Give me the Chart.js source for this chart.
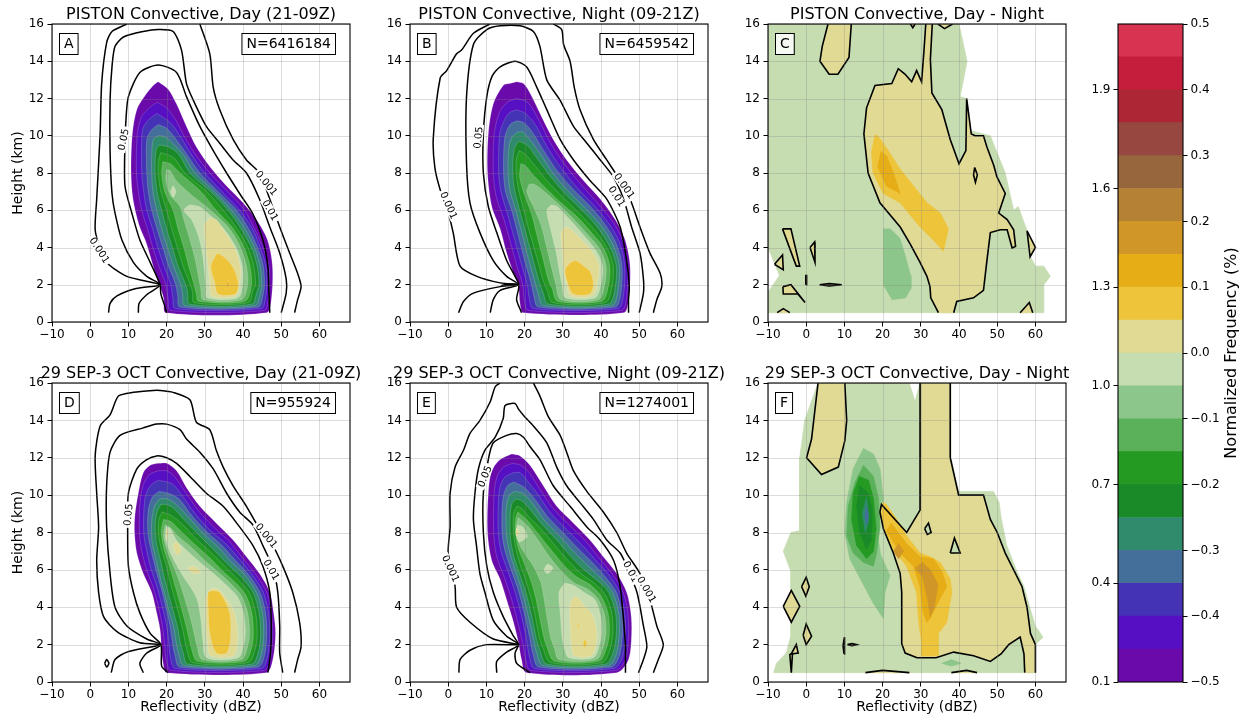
<!DOCTYPE html>
<html>
<head>
<meta charset="utf-8">
<script src="https://cdn.jsdelivr.net/npm/chart.js@4.4.1/dist/chart.umd.min.js"></script>
<style>
  body { margin: 0; background: #fff; width: 1245px; height: 723px; position: relative; overflow: hidden; }
  canvas { position: absolute; }
</style>
</head>
<body>
<script>
const FONT = '"DejaVu Sans", sans-serif';

// axes
const xTicks = [-10, 0, 10, 20, 30, 40, 50, 60];
const yTicks = [0, 2, 4, 6, 8, 10, 12, 14, 16];
const freqTicks = [0.1, 0.4, 0.7, 1.0, 1.3, 1.6, 1.9];
const diffTicks = [-0.5, -0.4, -0.3, -0.2, -0.1, 0.0, 0.1, 0.2, 0.3, 0.4, 0.5];
// colour levels (normalized frequency, %)
const freqLevels = [0.1, 0.2, 0.3, 0.4, 0.5, 0.6, 0.7, 0.8, 0.9, 1.0, 1.1, 1.2, 1.3, 1.4, 1.5, 1.6, 1.7, 1.8, 1.9, 2.0, 2.1];
const bandColors = ['#6a0aab', '#560fc2', '#4533b5', '#456f9b', '#2f8b6c', '#1a8a29', '#249a23', '#5ab15a', '#8dc68a', '#c6dcb1',
                    '#e0da94', '#edc43a', '#e6ad16', '#d09628', '#b58135', '#97663d', '#964840', '#ad2635', '#c41e3c', '#d83350'];

// ---------- A: PISTON day ----------
const countA = 6416184;
const fillA = [
  [0, [[17.8,12.9],[16.5,12.7],[14.5,12.2],[12.2,11.4],[11.0,10.0],[10.7,8.0],[11.2,6.6],[12.8,5.2],[14.6,4.3],[16.2,3.2],[17.5,2.3],[18.3,1.9],[19.3,1.2],[19.8,0.5],[46.1,0.5],[47.4,1.2],[47.7,3.0],[46.4,4.4],[43.5,5.5],[40.0,6.4],[35.7,7.3],[31.5,8.3],[27.8,9.4],[25.2,10.5],[22.6,11.7],[20.4,12.5]]],
  [1, [[17.5,11.8],[15.5,11.5],[13.4,11.0],[12.3,10.0],[12.1,8.0],[12.6,7.0],[13.5,6.0],[15.0,5.0],[16.4,4.0],[18.0,3.0],[19.8,2.0],[20.4,1.2],[21.0,0.62],[45.5,0.62],[46.6,1.2],[46.9,2.0],[46.8,3.0],[45.2,4.0],[43.5,4.8],[40.4,6.0],[36.0,7.0],[31.3,8.0],[27.5,9.0],[24.5,10.0],[22.5,10.8],[20.0,11.5]]],
  [2, [[17.5,11.2],[15.5,10.9],[14.0,10.5],[13.5,10.0],[13.5,8.0],[14.0,7.0],[14.8,6.0],[16.3,5.0],[17.7,4.0],[19.3,3.0],[21.1,2.0],[21.6,1.3],[22.3,0.72],[44.8,0.72],[45.9,1.3],[46.2,2.0],[46.0,3.0],[44.5,4.0],[42.5,5.0],[39.1,6.0],[34.5,7.0],[30.0,8.0],[26.5,9.0],[23.5,10.0],[21.0,10.7]]],
  [3, [[17.8,10.6],[16.0,10.3],[14.8,9.8],[14.8,8.0],[15.2,7.0],[16.1,6.0],[17.5,5.0],[19.0,4.0],[20.5,3.0],[22.4,2.0],[22.9,1.4],[23.5,0.8],[44.0,0.8],[45.2,1.4],[45.6,2.0],[45.3,3.0],[43.8,4.0],[41.5,5.0],[38.3,6.0],[33.5,7.0],[28.7,8.0],[25.3,9.0],[22.5,9.8],[20.0,10.4]]],
  [4, [[17.8,10.0],[16.5,9.8],[16.1,9.0],[16.1,8.0],[16.4,7.0],[17.4,6.0],[18.7,5.0],[20.2,4.0],[21.8,3.0],[23.7,2.0],[24.2,1.5],[24.7,0.88],[43.2,0.88],[44.5,1.5],[44.9,2.0],[44.5,3.0],[43.0,4.0],[40.5,5.0],[37.0,6.0],[32.5,7.0],[27.4,8.0],[24.3,9.0],[21.5,9.6],[19.5,9.95]]],
  [5, [[18.0,9.5],[17.2,9.2],[17.0,8.0],[17.5,7.0],[18.7,6.0],[20.0,5.0],[21.5,4.0],[23.0,3.0],[25.0,2.0],[25.5,1.6],[26.0,0.96],[42.3,0.96],[43.6,1.6],[44.2,2.0],[43.7,3.0],[42.2,4.0],[39.5,5.0],[36.1,6.0],[31.5,7.0],[26.1,8.0],[23.2,9.0],[20.5,9.4]]],
  [6, [[18.5,9.1],[17.9,8.7],[17.8,8.0],[18.5,7.0],[20.0,6.0],[21.3,5.0],[22.8,4.0],[24.3,3.0],[26.2,2.0],[26.8,1.6],[27.2,1.04],[41.4,1.04],[42.6,1.7],[43.3,2.0],[42.8,3.0],[41.3,4.0],[38.5,5.0],[34.8,6.0],[30.5,7.0],[24.8,8.0],[22.0,8.8],[20.0,9.0]]],
  [7, [[19.0,8.6],[18.7,8.0],[19.5,7.0],[21.7,6.0],[23.0,5.0],[24.5,4.0],[25.8,3.0],[27.2,2.0],[27.8,1.5],[28.3,1.12],[40.5,1.12],[42.2,2.0],[41.8,3.0],[40.3,4.0],[37.5,5.0],[33.0,6.0],[29.0,7.0],[23.5,8.0],[21.0,8.5]]],
  [8, [[20.0,8.2],[19.8,7.6],[21.0,6.8],[23.5,6.2],[24.5,5.5],[26.0,4.5],[27.3,3.5],[28.3,2.5],[29.0,1.7],[29.5,1.2],[39.6,1.2],[41.2,2.0],[40.9,3.0],[39.3,4.0],[36.5,5.0],[31.5,6.0],[28.5,6.5],[25.5,7.0],[22.5,7.6],[21.0,8.1]]],
  [9, [[26.0,6.3],[24.5,6.0],[26.5,5.5],[28.5,4.5],[29.5,3.5],[30.0,2.5],[30.3,1.8],[30.6,1.3],[38.7,1.3],[40.0,2.2],[39.8,3.0],[38.2,4.0],[35.0,5.0],[31.0,5.8],[28.5,6.2]]],
  [9, [[21.0,7.0],[21.7,7.3],[22.4,7.0],[21.7,6.7]]],
  [10, [[31.5,5.6],[29.8,5.2],[30.3,4.0],[30.8,3.0],[31.3,2.2],[31.8,1.4],[38.0,1.4],[39.3,2.3],[39.3,3.0],[37.8,4.0],[35.0,4.9],[33.0,5.5]]],
  [11, [[33.2,3.7],[31.6,3.0],[32.5,2.2],[33.5,1.5],[38.0,1.5],[38.8,2.0],[37.5,2.9],[35.0,3.5]]],
  [12, [[36.0,2.25],[36.3,2.0],[36.0,1.8],[35.7,2.0]]]
];
const linesA = [
  [[4.8,0.5],[5.2,1.0],[7.0,1.4],[12.0,1.8],[18.3,2.0],[9.6,2.45],[4.3,3.2],[2.5,4.0],[1.3,4.95],[1.7,6.6],[2.6,10.1],[3.0,12.8],[4.3,15.0],[5.7,15.6],[9.6,16.0]],
  [[28.7,16.0],[31.3,14.4],[32.2,12.6],[33.9,11.4],[37.4,9.8],[40.9,8.7],[44.3,8.0],[47.0,6.6],[49.6,5.1],[52.2,3.7],[54.3,2.6],[55.2,1.9],[54.3,1.2],[53.5,0.5]],
  [[12.6,0.5],[12.8,1.0],[15.0,1.5],[18.3,2.0],[14.8,2.45],[11.3,3.2],[8.3,4.4],[6.5,5.85],[5.7,6.9],[5.2,9.2],[5.2,11.9],[5.7,13.7],[6.5,14.8],[8.7,15.3],[13.9,15.6],[17.8,15.7],[21.7,15.6],[23.9,14.6],[25.2,12.8],[27.0,11.9],[30.4,10.5],[33.9,9.6],[37.4,8.7],[40.9,8.0],[44.3,6.6],[47.0,5.1],[49.6,3.7],[51.3,2.3],[51.3,1.55],[50.0,0.5]],
  [[20.0,0.5],[19.3,1.0],[18.5,1.5],[18.3,2.0],[17.4,2.45],[15.7,3.2],[13.0,4.4],[10.9,5.85],[9.1,7.3],[9.1,9.6],[9.4,11.0],[10.0,12.1],[13.0,13.4],[17.8,13.8],[22.6,13.4],[25.2,12.1],[28.7,10.5],[32.2,9.2],[35.7,8.0],[39.1,6.9],[42.6,5.8],[45.2,4.4],[46.5,3.0],[46.8,1.55],[47.0,0.5]]
];
const labelsA = [['0.05', 8.7, 9.8, -78], ['0.001', 2.4, 3.85, 57], ['0.001', 46.1, 7.45, 51], ['0.01', 47.1, 6.0, 60]];

// ---------- B: PISTON night ----------
const countB = 6459542;
const fillB = [
  [0, [[17.9,12.9],[16.0,12.8],[14.4,12.7],[11.8,11.7],[10.5,10.1],[10.3,8.0],[11.4,6.2],[13.6,5.0],[15.3,3.7],[17.1,2.6],[18.4,1.9],[18.8,1.0],[19.7,0.5],[45.9,0.5],[47.2,1.2],[47.6,3.0],[46.3,4.4],[43.7,5.5],[39.8,6.6],[35.4,7.6],[31.0,8.7],[27.5,9.8],[24.5,11.0],[21.4,12.3],[19.7,12.8]]],
  [1, [[17.9,12.0],[15.5,11.8],[13.3,11.2],[12.0,10.0],[11.8,8.0],[12.6,6.7],[14.6,5.5],[16.4,4.2],[18.0,3.0],[19.5,2.0],[19.9,1.2],[21.0,0.62],[45.3,0.62],[46.6,1.2],[47.0,3.0],[45.6,4.4],[43.0,5.4],[39.0,6.4],[34.7,7.4],[30.3,8.5],[26.8,9.6],[23.8,10.8],[20.8,11.8]]],
  [2, [[17.9,11.4],[15.8,11.2],[14.2,10.6],[13.4,10.0],[13.2,8.0],[13.8,7.0],[15.5,5.8],[17.4,4.4],[19.0,3.2],[20.7,2.0],[21.2,1.3],[22.3,0.72],[44.5,0.72],[45.8,1.3],[46.2,3.0],[44.8,4.3],[42.0,5.3],[38.0,6.3],[33.8,7.2],[29.5,8.3],[25.9,9.4],[22.8,10.6],[20.2,11.2]]],
  [3, [[18.0,10.8],[16.2,10.6],[14.8,9.9],[14.5,8.0],[15.0,7.0],[16.6,6.0],[18.4,4.6],[20.0,3.3],[21.8,2.0],[22.4,1.4],[23.6,0.8],[43.7,0.8],[45.1,1.4],[45.5,3.0],[44.0,4.2],[41.2,5.2],[37.2,6.2],[32.8,7.1],[28.6,8.1],[25.0,9.2],[22.0,10.2],[19.8,10.7]]],
  [4, [[18.2,10.2],[16.6,9.9],[15.8,9.2],[15.7,8.0],[16.2,7.0],[17.7,6.0],[19.4,4.7],[21.0,3.4],[22.9,2.0],[23.6,1.5],[24.9,0.88],[42.9,0.88],[44.3,1.5],[44.8,3.0],[43.2,4.1],[40.3,5.1],[36.4,6.0],[32.0,6.9],[27.7,7.9],[24.2,9.0],[21.3,9.8],[19.5,10.2]]],
  [5, [[18.4,9.7],[17.3,9.3],[16.9,8.3],[17.3,7.2],[18.7,6.0],[20.3,4.8],[22.0,3.5],[23.9,2.1],[24.8,1.6],[26.2,0.96],[42.0,0.96],[43.5,1.6],[44.0,3.0],[42.4,4.0],[39.4,5.0],[35.5,5.9],[31.0,6.8],[26.8,7.8],[23.2,8.8],[20.6,9.5]]],
  [6, [[18.6,9.2],[17.9,8.8],[17.8,8.0],[18.5,7.0],[19.8,6.0],[21.3,4.8],[23.0,3.6],[24.9,2.2],[25.9,1.7],[27.4,1.04],[41.1,1.04],[42.7,1.7],[43.2,3.0],[41.5,4.0],[38.5,4.9],[34.5,5.8],[30.0,6.7],[25.8,7.6],[22.3,8.5],[20.2,9.0]]],
  [7, [[19.0,8.5],[18.7,7.8],[20.0,6.8],[21.8,5.8],[23.3,4.6],[24.8,3.4],[26.3,2.2],[27.2,1.8],[28.6,1.12],[40.2,1.12],[41.8,1.8],[42.3,3.0],[40.6,4.0],[37.5,4.8],[33.5,5.7],[29.0,6.5],[25.0,7.3],[21.8,8.0],[20.2,8.4]]],
  [8, [[21.2,7.4],[20.6,7.0],[22.3,6.2],[24.3,5.2],[25.8,4.0],[27.2,2.8],[28.2,2.0],[29.5,1.2],[39.3,1.2],[40.9,1.95],[41.3,3.0],[39.7,3.9],[36.5,4.7],[32.5,5.6],[28.5,6.4],[25.2,7.0],[22.5,7.4]]],
  [9, [[27.0,6.3],[25.8,6.0],[26.8,5.0],[28.2,3.8],[29.2,2.6],[29.8,2.0],[30.7,1.3],[38.5,1.3],[40.0,2.05],[40.4,3.0],[38.8,3.8],[35.7,4.6],[31.8,5.5],[28.5,6.2]]],
  [10, [[30.5,5.1],[29.5,4.8],[29.8,3.8],[30.3,2.6],[31.0,2.0],[32.0,1.4],[37.7,1.4],[39.2,2.2],[39.5,3.0],[38.0,3.7],[35.0,4.4],[32.0,5.0]]],
  [11, [[32.0,3.2],[30.6,2.8],[31.4,2.0],[32.8,1.5],[37.0,1.5],[38.0,2.0],[37.2,2.7],[35.5,3.0],[33.5,3.3]]]
];
const linesB = [
  [[2.7,0.5],[4.0,1.1],[6.6,1.55],[13.6,1.9],[18.4,2.0],[13.6,2.1],[7.5,2.45],[3.1,3.0],[1.3,4.8],[-0.4,6.2],[-2.1,7.1],[-3.5,8.3],[-3.9,9.9],[-2.1,13.1],[-0.4,13.5],[2.2,14.4],[3.5,14.6],[6.6,15.5],[10.9,16.0]],
  [[27.5,16.0],[29.7,15.7],[30.2,14.9],[31.9,14.0],[33.0,12.6],[34.5,11.4],[38.0,9.8],[41.5,8.7],[45.0,7.6],[47.6,6.6],[50.2,5.1],[52.8,3.7],[55.5,2.6],[55.9,1.9],[54.6,1.2],[53.7,0.5]],
  [[11.0,0.5],[11.8,1.2],[13.6,1.7],[18.4,2.0],[15.3,2.45],[11.8,3.3],[8.3,4.8],[5.7,6.4],[4.8,8.5],[4.8,12.1],[6.6,14.9],[10.1,15.7],[13.6,15.9],[18.8,15.9],[22.3,15.6],[24.0,14.8],[25.8,13.0],[29.3,11.9],[32.8,10.5],[36.3,9.6],[39.8,8.7],[43.2,7.8],[45.9,6.6],[48.0,5.1],[50.2,3.7],[51.1,2.3],[51.1,1.55],[50.0,0.5]],
  [[19.2,0.5],[17.9,1.2],[18.4,2.0],[14.0,1.97],[18.4,2.03],[17.5,2.45],[15.3,3.3],[12.7,4.8],[10.5,6.2],[9.2,8.0],[9.2,10.1],[10.1,12.1],[11.5,13.2],[13.6,13.7],[17.5,14.0],[20.5,13.7],[23.2,12.6],[25.8,11.4],[29.3,9.8],[32.8,8.7],[37.1,7.6],[41.5,6.6],[45.0,5.1],[46.7,3.3],[47.4,1.9],[47.2,1.2],[47.2,0.5]]
];
const labelsB = [['0.05', 7.9, 9.9, -84], ['0.001', 0.1, 6.26, 66], ['0.001', 46.1, 7.3, 55], ['0.01', 44.1, 6.74, 57]];

// ---------- C: PISTON day - night ----------
const fillC = [
  [9, [[-10,0.5],[62.2,0.5],[62.2,2.0],[63.9,2.45],[62.2,3.0],[60.0,3.0],[58.2,3.7],[58.7,4.4],[55.5,6.2],[54.3,6.0],[52.1,8.0],[48.2,10.0],[42.5,10.3],[42.0,12.0],[40.3,12.1],[42.1,14.0],[40.0,16.0],[-10,16.0],[-10,4.0],[-7.0,2.5],[-10,1.6]], false],
  [8, [[20.2,5.0],[22.0,5.0],[24.5,4.5],[26.0,3.5],[27.3,2.5],[27.4,1.8],[26.0,1.3],[22.5,1.2],[20.2,2.0],[20.3,3.5]], false],
  [10, [[34.6,0.5],[38.6,0.5],[39.4,1.1],[43.8,1.3],[46.4,1.7],[47.3,3.3],[48.2,4.8],[50.8,4.95],[52.6,4.95],[53.9,3.97],[54.8,4.06],[54.3,4.95],[52.6,5.5],[50.4,5.85],[52.1,6.9],[49.9,7.8],[49.1,8.4],[47.3,9.4],[46.4,10.0],[44.2,10.0],[43.2,10.1],[42.0,12.0],[41.8,9.2],[40.0,8.5],[37.7,9.8],[35.5,11.4],[32.9,12.3],[32.5,14.1],[33.0,16.0],[31.3,16.0],[30.8,14.5],[30.2,12.9],[28.9,13.5],[27.6,12.9],[25.9,13.3],[24.1,13.6],[22.4,12.8],[18.0,12.7],[15.8,11.5],[15.1,10.1],[16.2,8.0],[19.3,6.4],[24.6,5.1],[27.2,4.2],[29.8,3.2],[31.6,2.45],[32.4,1.9],[32.6,1.3]], true],
  [10, [[5.7,16.0],[11.8,16.0],[11.2,14.2],[8.3,13.3],[6.0,13.3],[3.6,14.0],[4.2,14.8]], true],
  [10, [[27.3,16.0],[28.5,16.0],[27.9,15.8]], true],
  [10, [[34.5,16.0],[38.3,16.0],[36.2,15.75]], true],
  [10, [[44.1,8.3],[44.8,7.9],[44.3,7.5],[43.8,7.9]], true],
  [10, [[57.8,4.9],[60.0,4.0],[58.6,3.5]], true],
  [10, [[56.0,0.5],[58.4,1.05],[59.3,0.5]], true],
  [10, [[-6.2,5.0],[-4.0,5.0],[-1.7,3.0],[-2.6,3.0]], true],
  [10, [[1.0,4.0],[2.2,4.3],[2.3,3.2]], true],
  [10, [[-8.3,3.1],[-6.2,3.6],[-6.0,2.8]], true],
  [10, [[-6.1,1.9],[-4.0,2.0],[-0.3,1.05],[-2.2,1.5],[-6.0,1.5]], true],
  [10, [[-7.6,0.5],[-6.0,0.72],[-4.3,0.5]], true],
  [10, [[3.5,2.0],[6.0,2.06],[9.3,2.0],[6.0,1.94]], true],
  [10, [[-0.1,2.0],[0.1,2.0],[0.1,2.5],[-0.1,2.5]], true],
  [11, [[18.0,10.05],[17.1,9.1],[17.5,8.0],[20.2,6.9],[24.6,6.4],[29.8,5.1],[33.3,4.4],[35.9,3.8],[37.2,5.0],[35.1,5.85],[31.6,6.4],[28.1,7.3],[24.6,8.2],[21.5,9.2],[18.9,9.95]], false],
  [12, [[19.6,9.15],[18.7,8.35],[21.0,7.3],[24.6,6.9],[22.8,8.0],[21.1,8.9]], false]
];

// ---------- D: 29 SEP-3 OCT day ----------
const countD = 955924;
const fillD = [
  [0, [[17.8,11.7],[15.7,11.6],[13.9,11.2],[12.6,10.1],[11.7,8.9],[11.6,8.0],[12.2,6.9],[13.9,5.8],[16.1,4.8],[17.4,3.7],[18.3,2.8],[18.7,1.7],[19.1,1.0],[20.0,0.5],[46.1,0.5],[47.8,1.2],[48.5,2.6],[48.0,3.7],[47.0,4.8],[44.3,5.8],[40.9,6.7],[37.4,7.6],[33.0,8.5],[28.7,9.4],[25.2,10.4],[22.6,11.3],[20.0,11.7]]],
  [1, [[17.8,11.3],[15.5,11.1],[13.8,10.5],[13.0,9.5],[12.9,8.0],[13.5,7.0],[14.8,6.0],[16.6,5.0],[17.9,4.0],[18.9,3.0],[19.5,2.0],[19.9,1.2],[21.2,0.62],[45.5,0.62],[47.1,1.2],[47.8,2.5],[47.4,3.7],[46.2,4.8],[43.5,5.7],[40.0,6.6],[36.5,7.5],[32.3,8.3],[28.2,9.2],[24.8,10.2],[22.0,11.0],[20.0,11.3]]],
  [2, [[17.8,10.8],[15.7,10.5],[14.3,9.8],[14.0,8.0],[14.8,7.0],[16.0,6.0],[17.6,5.0],[18.9,4.0],[20.0,3.0],[20.6,2.0],[21.0,1.3],[22.3,0.72],[44.8,0.72],[46.4,1.3],[47.0,2.5],[46.7,3.7],[45.3,4.8],[42.6,5.7],[39.0,6.6],[35.5,7.4],[31.5,8.1],[27.5,9.0],[24.0,10.0],[21.5,10.6]]],
  [3, [[18.0,10.2],[16.3,9.9],[15.2,9.2],[15.1,8.0],[16.0,7.0],[17.2,6.0],[18.6,5.0],[19.8,4.0],[20.9,3.0],[21.6,2.0],[22.2,1.4],[23.4,0.8],[44.0,0.8],[45.6,1.4],[46.2,2.5],[45.9,3.7],[44.4,4.8],[41.6,5.7],[38.0,6.5],[34.5,7.3],[30.7,8.0],[26.6,8.9],[23.2,9.8],[20.5,10.1]]],
  [4, [[18.2,9.8],[16.8,9.4],[16.1,8.6],[16.2,7.5],[17.2,6.6],[18.3,5.6],[19.5,4.7],[20.6,3.8],[21.8,3.0],[22.6,2.0],[23.2,1.5],[24.5,0.88],[43.2,0.88],[44.8,1.5],[45.4,2.5],[45.1,3.7],[43.5,4.8],[40.6,5.7],[37.0,6.4],[33.6,7.2],[29.8,7.9],[25.8,8.8],[22.5,9.5],[20.2,9.8]]],
  [5, [[18.5,9.5],[17.5,9.1],[17.0,8.3],[17.4,7.4],[18.4,6.5],[19.5,5.5],[20.8,4.5],[22.0,3.6],[23.0,2.8],[23.7,2.0],[24.3,1.6],[25.5,0.96],[42.3,0.96],[44.0,1.6],[44.6,2.5],[44.2,3.7],[42.6,4.8],[39.6,5.6],[36.0,6.3],[32.7,7.0],[28.8,7.8],[25.0,8.6],[21.8,9.3],[20.0,9.5]]],
  [6, [[18.8,9.1],[18.0,8.7],[17.8,8.0],[18.5,7.2],[19.8,6.3],[21.0,5.3],[22.3,4.3],[23.5,3.4],[24.5,2.5],[25.2,1.8],[26.8,1.04],[41.4,1.04],[43.1,1.7],[43.7,2.5],[43.3,3.7],[41.6,4.8],[38.6,5.5],[35.2,6.2],[31.8,6.9],[28.0,7.6],[24.3,8.4],[21.3,8.9]]],
  [7, [[19.2,8.7],[18.6,8.1],[19.2,7.2],[20.6,6.3],[22.0,5.3],[23.4,4.3],[24.6,3.4],[25.7,2.5],[26.5,1.8],[28.0,1.12],[40.5,1.12],[42.2,1.8],[42.7,2.5],[42.3,3.7],[40.6,4.7],[37.6,5.4],[34.4,6.0],[31.0,6.7],[27.2,7.4],[23.6,8.1],[21.0,8.6]]],
  [8, [[19.6,8.4],[19.2,7.8],[20.2,7.0],[21.8,6.2],[23.3,5.4],[24.7,4.5],[26.0,3.6],[27.2,2.6],[28.0,1.9],[29.3,1.2],[39.6,1.2],[41.2,1.9],[41.7,2.6],[41.2,3.7],[39.6,4.6],[36.6,5.3],[33.4,5.9],[30.0,6.5],[26.5,7.2],[23.0,7.8],[20.8,8.3]]],
  [9, [[20.0,8.3],[19.7,7.7],[20.8,7.0],[22.5,6.3],[24.5,5.6],[26.5,5.0],[28.0,4.4],[29.0,3.3],[29.5,2.2],[30.5,1.3],[38.7,1.3],[40.2,2.0],[40.6,2.8],[40.0,3.8],[38.4,4.6],[35.5,5.2],[32.3,5.8],[28.8,6.4],[25.5,7.0],[22.5,7.6],[21.0,8.2]]],
  [10, [[20.0,8.3],[19.8,8.0],[20.0,7.6],[20.4,8.0]]],
  [10, [[21.6,7.3],[22.6,7.5],[23.8,7.0],[22.6,6.8]]],
  [10, [[25.5,6.1],[27.0,6.2],[29.0,5.9],[27.0,5.8]]],
  [10, [[31.5,5.0],[30.2,4.5],[30.3,3.0],[30.8,2.0],[31.5,1.4],[37.5,1.4],[38.6,2.2],[38.5,3.0],[37.6,3.8],[35.2,4.6],[33.3,5.0]]],
  [11, [[32.2,4.9],[33.9,4.8],[36.5,3.7],[36.7,2.3],[35.7,1.55],[33.0,1.55],[31.3,2.6],[30.9,3.9],[30.9,4.8]]]
];
const linesD = [
  [[5.5,0.5],[6.5,1.2],[9.6,1.6],[18.5,2.0],[13.0,2.1],[7.0,2.7],[3.5,3.5],[2.2,4.8],[1.7,6.5],[2.2,8.3],[1.7,10.1],[1.3,12.1],[2.6,13.7],[5.2,14.3],[7.4,15.3],[11.3,15.5],[16.5,15.6],[18.3,15.6],[21.7,15.5],[26.1,15.1],[27.8,13.9],[31.3,13.5],[33.0,12.4],[34.8,11.5],[37.4,10.5],[40.9,9.4],[44.3,8.2],[47.8,7.3],[50.4,6.2],[53.0,4.8],[54.8,3.2],[55.2,1.9],[54.3,1.2],[53.5,0.5]],
  [[13.9,0.5],[13.0,1.0],[14.8,1.55],[18.5,2.0],[14.8,2.3],[9.6,3.0],[6.5,4.0],[5.2,5.8],[4.3,8.3],[4.3,10.5],[5.2,12.3],[7.8,13.2],[13.9,13.6],[17.4,13.8],[20.0,13.8],[23.5,13.5],[25.2,13.0],[28.7,12.3],[32.2,11.4],[35.7,10.1],[39.1,9.1],[42.6,8.4],[45.2,7.3],[47.8,6.1],[49.1,4.8],[49.6,3.0],[49.6,1.55],[50.4,0.5]],
  [[20.4,0.5],[18.7,0.85],[18.5,2.0],[15.7,2.6],[13.0,3.7],[11.3,4.8],[10.0,6.2],[9.8,8.3],[10.0,10.1],[12.2,11.4],[14.8,11.9],[17.4,12.1],[20.0,12.0],[22.6,11.7],[26.1,11.0],[30.4,10.1],[34.8,9.4],[39.1,8.3],[42.6,7.3],[45.2,6.2],[47.0,4.8],[47.4,3.0],[47.2,1.55],[46.5,0.5]],
  [[3.8,1.0],[4.3,1.2],[4.9,1.0],[4.3,0.8],[3.8,1.0]]
];
const labelsD = [['0.05', 10.0, 8.95, -84], ['0.001', 46.1, 7.83, 51], ['0.01', 47.4, 6.0, 60]];

// ---------- E: 29 SEP-3 OCT night ----------
const countE = 1274001;
const fillE = [
  [0, [[16.6,12.2],[13.6,11.9],[11.4,11.3],[10.5,10.1],[10.3,8.0],[11.4,6.5],[13.6,5.5],[15.3,4.4],[17.1,3.2],[18.4,2.1],[19.2,1.2],[20.5,0.5],[44.1,0.5],[47.2,1.2],[48.0,2.6],[47.8,3.7],[46.7,4.8],[44.1,5.8],[40.6,6.7],[37.1,7.6],[32.8,8.5],[28.4,9.4],[24.9,10.5],[21.4,11.6],[18.8,12.1]]],
  [1, [[16.8,11.7],[14.5,11.5],[12.8,11.0],[12.0,10.0],[11.9,8.0],[12.6,6.8],[14.5,5.7],[16.5,4.5],[18.2,3.2],[19.5,2.1],[20.3,1.2],[21.5,0.62],[43.8,0.62],[46.4,1.2],[47.2,2.6],[47.0,3.7],[45.8,4.8],[43.2,5.7],[39.6,6.6],[36.1,7.5],[31.7,8.4],[27.4,9.3],[24.0,10.3],[21.2,11.2],[19.0,11.6]]],
  [2, [[17.0,11.2],[15.0,11.0],[13.6,10.5],[13.1,9.5],[13.1,8.0],[13.8,7.0],[15.5,6.0],[17.5,4.8],[19.1,3.6],[20.4,2.4],[21.2,1.4],[22.6,0.72],[43.3,0.72],[45.6,1.3],[46.4,2.6],[46.2,3.7],[44.9,4.8],[42.2,5.7],[38.7,6.5],[35.2,7.3],[30.8,8.2],[26.6,9.1],[23.3,10.1],[20.6,10.8],[18.8,11.2]]],
  [3, [[17.2,10.7],[15.5,10.5],[14.3,9.8],[14.1,8.0],[14.9,7.0],[16.5,6.0],[18.5,4.8],[20.0,3.6],[21.3,2.4],[22.2,1.5],[23.7,0.8],[42.7,0.8],[44.8,1.4],[45.6,2.6],[45.4,3.7],[44.0,4.8],[41.2,5.6],[37.7,6.4],[34.2,7.1],[30.0,8.0],[25.8,8.9],[22.6,9.8],[20.0,10.4]]],
  [4, [[17.5,10.2],[16.0,10.0],[15.2,9.3],[15.2,8.0],[16.0,7.0],[17.5,6.0],[19.4,4.8],[20.9,3.6],[22.2,2.4],[23.1,1.6],[24.8,0.88],[42.0,0.88],[44.0,1.5],[44.8,2.6],[44.6,3.7],[43.0,4.8],[40.2,5.5],[36.7,6.2],[33.2,6.9],[29.2,7.8],[25.0,8.7],[21.9,9.6],[19.5,10.1]]],
  [5, [[17.8,9.8],[16.6,9.5],[16.2,8.7],[16.3,7.7],[17.1,6.8],[18.5,5.9],[20.3,4.8],[21.8,3.6],[23.0,2.4],[24.0,1.7],[25.8,0.96],[41.2,0.96],[43.2,1.6],[44.0,2.6],[43.8,3.7],[42.0,4.8],[39.2,5.4],[35.6,6.0],[32.2,6.7],[28.4,7.6],[24.3,8.5],[21.2,9.3],[19.2,9.7]]],
  [6, [[18.0,9.4],[17.2,9.1],[17.0,8.3],[17.5,7.3],[18.8,6.3],[20.5,5.3],[21.8,4.4],[22.8,3.5],[23.8,2.4],[24.8,1.8],[26.8,1.04],[40.3,1.04],[42.3,1.7],[43.1,2.6],[42.8,3.7],[41.0,4.7],[38.2,5.3],[34.8,5.8],[31.4,6.5],[27.6,7.4],[23.8,8.3],[20.8,8.9],[19.2,9.3]]],
  [7, [[18.2,9.1],[17.6,8.7],[17.6,8.0],[18.3,7.2],[19.8,6.4],[21.5,5.5],[22.8,4.6],[23.8,3.6],[24.9,2.5],[25.8,1.9],[27.8,1.12],[39.5,1.12],[41.4,1.8],[42.2,2.6],[41.8,3.7],[40.0,4.6],[37.2,5.2],[33.8,5.6],[30.5,6.2],[26.8,7.1],[23.3,8.0],[20.5,8.7]]],
  [8, [[18.3,8.8],[17.8,8.2],[18.6,7.4],[20.3,6.8],[22.3,6.2],[24.3,5.3],[25.2,4.3],[26.0,3.3],[26.8,2.4],[27.8,1.8],[29.0,1.2],[38.8,1.2],[40.6,1.9],[41.3,2.7],[40.8,3.7],[39.0,4.5],[36.2,5.0],[33.0,5.3],[29.8,5.9],[26.5,6.7],[23.5,7.6],[21.0,8.3]]],
  [9, [[18.2,8.4],[17.7,8.0],[18.5,7.5],[19.7,7.6],[20.7,7.8],[19.5,8.3]]],
  [9, [[25.0,6.0],[26.0,6.3],[27.4,6.1],[26.0,5.8]]],
  [9, [[30.5,5.3],[29.0,4.8],[29.4,3.5],[29.8,2.4],[30.4,1.8],[31.5,1.3],[38.0,1.3],[39.6,2.0],[40.2,2.7],[39.8,3.6],[38.4,4.4],[35.5,4.8],[32.5,5.2]]],
  [10, [[18.0,8.25],[17.7,8.0],[18.0,7.8],[18.5,8.0]]],
  [10, [[33.0,4.6],[31.9,4.2],[31.9,3.0],[32.2,2.0],[33.0,1.4],[37.5,1.4],[38.8,2.1],[38.8,2.8],[37.8,3.6],[35.5,4.1],[34.2,4.5]]],
  [11, [[35.8,2.3],[36.3,2.05],[35.8,1.85],[35.3,2.05]]],
  [11, [[34.0,3.2],[34.2,3.0],[34.0,2.8],[33.8,3.0]]]
];
const linesE = [
  [[2.8,0.5],[3.1,1.2],[5.7,1.7],[10.1,2.0],[18.4,2.0],[11.8,2.3],[5.7,3.2],[2.2,4.0],[1.8,5.1],[0.0,6.9],[0.5,8.3],[0.5,10.1],[1.8,11.5],[4.0,12.4],[5.7,13.3],[8.3,14.0],[11.0,15.0],[12.3,15.8],[13.6,16.0]],
  [[22.3,16.0],[24.0,15.3],[26.2,14.2],[29.3,13.2],[31.0,12.3],[32.8,11.3],[36.3,10.2],[40.6,9.1],[44.1,8.0],[46.7,6.9],[50.2,5.8],[52.8,4.4],[54.6,3.0],[56.3,2.0],[55.0,1.2],[53.7,0.5]],
  [[12.7,0.5],[12.7,1.1],[15.3,1.6],[18.4,2.0],[15.3,2.45],[11.8,3.3],[9.6,4.8],[8.3,5.8],[7.4,7.3],[6.6,8.7],[7.0,10.1],[7.9,11.4],[9.6,12.4],[12.3,13.1],[14.4,14.1],[14.9,14.8],[17.5,14.9],[18.4,14.6],[20.0,14.2],[22.3,13.7],[25.8,12.8],[28.4,11.5],[31.0,10.5],[34.5,9.6],[38.0,8.7],[41.5,7.6],[45.0,6.9],[46.7,6.2],[49.4,4.8],[51.1,3.0],[52.0,1.9],[51.1,1.2],[49.8,0.5]],
  [[21.4,0.5],[17.9,1.0],[17.5,1.55],[18.4,2.0],[17.1,2.45],[14.4,3.5],[11.8,4.8],[10.1,6.2],[9.2,8.0],[9.2,10.1],[10.5,11.9],[11.8,12.8],[15.3,13.2],[17.9,13.3],[19.7,13.1],[21.4,12.6],[24.0,11.9],[27.5,10.5],[31.9,9.4],[36.3,8.3],[39.8,7.6],[43.3,6.5],[45.0,5.1],[45.9,3.3],[46.4,1.9],[46.4,1.2],[46.4,0.5]]
];
const labelsE = [['0.05', 9.6, 11.0, -67], ['0.001', 0.6, 6.07, 65], ['0.01', 47.8, 5.9, 62], ['0.001', 51.9, 4.94, 60]];

// ---------- F: 29 SEP-3 OCT day - night ----------
const fillF = [
  [9, [[-8.5,0.5],[60.0,0.5],[60.0,2.0],[62.0,2.4],[60.0,3.0],[58.5,4.0],[57.0,5.1],[55.0,6.0],[52.5,7.3],[51.0,8.8],[50.5,9.6],[49.0,10.2],[39.9,10.2],[37.9,12.0],[37.9,16.0],[29.8,16.0],[28.5,15.0],[27.0,16.0],[3.1,16.0],[-0.4,14.0],[-1.7,12.0],[-1.7,8.1],[-4.0,8.0],[-6.0,7.0],[-4.0,5.9],[-4.0,2.5],[-5.2,1.55],[-7.8,1.0]], false],
  [8, [[15.0,12.5],[12.3,11.4],[10.6,9.6],[10.1,8.0],[11.4,6.6],[15.0,5.2],[17.6,4.2],[20.2,3.4],[20.6,4.8],[21.9,5.7],[19.5,6.8],[18.4,8.2],[19.7,9.0],[20.2,9.8],[19.3,11.4],[17.6,12.2]], false],
  [8, [[35.5,1.0],[38.0,1.2],[40.5,1.0],[38.0,0.85]], false],
  [7, [[15.0,11.6],[12.8,10.7],[11.0,9.4],[10.6,7.8],[12.3,6.9],[15.0,6.4],[17.6,6.2],[18.4,6.9],[19.3,8.3],[18.9,9.8],[17.6,11.0]], false],
  [6, [[13.9,11.0],[12.3,10.1],[11.9,8.7],[13.2,7.3],[15.8,6.6],[17.6,7.0],[18.3,8.2],[17.6,9.8],[16.3,10.8]], false],
  [5, [[14.0,10.5],[13.2,9.4],[14.0,8.0],[15.8,7.1],[17.1,7.6],[17.3,9.2],[16.2,10.1]], false],
  [4, [[15.8,9.9],[14.7,9.0],[15.5,8.0],[16.4,8.7]], false],
  [3, [[15.8,9.4],[15.4,8.9],[15.8,8.4],[16.3,8.9]], false],
  [10, [[3.1,16.0],[10.1,16.0],[10.6,14.0],[10.1,12.9],[8.4,11.5],[4.0,11.1],[0.1,12.0],[1.4,13.0]], true],
  [10, [[29.8,16.0],[37.7,16.0],[37.7,12.0],[39.9,10.0],[46.4,10.0],[48.2,8.7],[50.0,8.0],[52.1,6.9],[54.3,6.0],[56.5,5.1],[57.8,4.0],[58.7,2.6],[60.0,2.0],[60.0,0.5],[57.2,0.5],[57.0,1.5],[56.0,2.4],[53.0,2.0],[51.0,1.5],[48.2,1.1],[43.8,1.4],[38.6,1.6],[34.0,1.3],[29.0,1.3],[25.9,1.55],[25.0,2.05],[25.0,4.8],[24.6,5.8],[22.8,6.9],[20.2,8.2],[19.3,9.1],[19.7,9.5],[26.3,8.0],[29.8,9.2]], true],
  [10, [[-6.0,4.05],[-3.9,4.9],[-1.7,4.05],[-3.9,3.2]], true],
  [10, [[-1.2,5.1],[0.0,5.6],[0.8,5.1],[-0.1,4.6]], true],
  [10, [[-0.8,2.5],[0.0,3.1],[1.4,2.45],[0.0,2.0]], true],
  [10, [[-3.9,1.5],[-2.6,2.0],[-2.1,1.55]], true],
  [10, [[-4.3,1.5],[-3.9,0.5],[-3.6,1.5]], true],
  [10, [[15.5,0.5],[20.0,0.62],[27.0,0.5]], true],
  [10, [[38.0,0.5],[42.0,0.62],[44.7,0.5]], true],
  [10, [[9.9,1.5],[10.15,1.95],[9.9,2.4],[9.65,1.95]], true],
  [10, [[10.8,2.0],[12.0,2.06],[13.2,2.0],[12.0,1.94]], true],
  [9, [[31.0,8.2],[32.0,8.5],[32.7,8.0],[31.7,7.9]], true],
  [9, [[37.7,6.9],[38.8,7.7],[40.3,6.9]], true],
  [11, [[20.0,9.6],[19.7,8.9],[20.6,8.0],[22.8,7.1],[26.3,6.2],[28.9,4.8],[29.4,3.3],[30.2,2.1],[30.2,1.4],[34.6,1.4],[34.6,2.6],[36.8,3.2],[38.1,4.8],[37.7,5.5],[35.1,6.4],[32.4,6.7],[29.8,6.9],[26.3,7.8],[23.7,8.7],[21.0,9.5]], false],
  [12, [[21.0,8.1],[24.6,6.9],[28.1,6.2],[29.8,5.1],[30.6,3.7],[31.6,3.2],[32.4,3.4],[35.1,4.5],[36.8,5.1],[35.5,5.9],[33.3,6.6],[29.8,6.7],[26.3,7.4],[23.7,8.1],[22.3,8.5]], false],
  [13, [[22.8,7.0],[24.2,7.4],[25.5,7.0],[24.2,6.6]], false],
  [13, [[28.5,6.1],[30.5,6.4],[32.5,6.0],[34.5,5.2],[33.5,4.0],[32.5,3.5],[31.8,4.4],[30.5,5.6]], false]
];

// ---------- helpers ----------
const toXY = pts => pts.map(p => ({x: p[0], y: p[1]}));
const closed = pts => toXY(pts.concat([pts[0]]));
const fmt = v => String(v).replace('-', '\u2212');

const framePlugin = {
  id: 'frame',
  afterDatasetsDraw(chart, args, opts) {
    const ctx = chart.ctx, ca = chart.chartArea, sx = chart.scales.x, sy = chart.scales.y;
    ctx.save();
    // grid drawn over the filled contours, translucent
    ctx.strokeStyle = 'rgba(128,128,128,0.28)';
    ctx.lineWidth = 1;
    ctx.beginPath();
    xTicks.forEach(v => { const px = Math.round(sx.getPixelForValue(v)) + 0.5; ctx.moveTo(px, ca.top); ctx.lineTo(px, ca.bottom); });
    yTicks.forEach(v => { const py = Math.round(sy.getPixelForValue(v)) + 0.5; ctx.moveTo(ca.left, py); ctx.lineTo(ca.right, py); });
    ctx.stroke();
    ctx.restore();
    // contour labels
    (opts.labels || []).forEach(([t, x, y, a]) => {
      ctx.save();
      ctx.translate(sx.getPixelForValue(x), sy.getPixelForValue(y));
      ctx.rotate(a * Math.PI / 180);
      ctx.font = '10px ' + FONT;
      const w = ctx.measureText(t).width;
      ctx.fillStyle = '#fff';
      ctx.fillRect(-w / 2 - 2, -4.5, w + 4, 9);
      ctx.fillStyle = '#000';
      ctx.textAlign = 'center';
      ctx.textBaseline = 'middle';
      ctx.fillText(t, 0, 0.5);
      ctx.restore();
    });
    ctx.save();
    ctx.strokeStyle = '#000';
    ctx.lineWidth = 1.1;
    ctx.strokeRect(ca.left, ca.top, ca.right - ca.left, ca.bottom - ca.top);
    // panel title, centred over the plot area
    ctx.font = '16px ' + FONT;
    ctx.fillStyle = '#000';
    ctx.textAlign = 'center';
    ctx.textBaseline = 'alphabetic';
    ctx.fillText(opts.title, (ca.left + ca.right) / 2, ca.top - 5.4);
    // text boxes
    ctx.font = '14px ' + FONT;
    ctx.textBaseline = 'middle';
    const box = (txt, x, y, alignRight) => {
      const w = ctx.measureText(txt).width + 9;
      const bx = alignRight ? x - w : x;
      ctx.fillStyle = 'rgba(255,255,255,0.85)';
      ctx.fillRect(bx, y, w, 21);
      ctx.lineWidth = 1;
      ctx.strokeStyle = '#000';
      ctx.strokeRect(bx + 0.5, y + 0.5, w, 21);
      ctx.fillStyle = '#000';
      ctx.textAlign = 'left';
      ctx.fillText(txt, bx + 5, y + 11.5);
    };
    box(opts.tag, ca.left + 7, ca.top + 9, false);
    if (opts.count) box('N=' + opts.count, ca.right - 15, ca.top + 9, true);
    ctx.restore();
  }
};

function makePanel(p) {
  const xH = p.xTitle ? 40 : 30;
  const cv = document.createElement('canvas');
  cv.width = 398;
  cv.height = 24 + p.h + xH;
  cv.style.left = (p.left - 50) + 'px';
  cv.style.top = (p.top - 24) + 'px';
  document.body.appendChild(cv);

  const cfad = p.tension > 0;
  const datasets = [];
  let order = 1000;
  p.fills.forEach(f => {
    const col = bandColors[f[0]];
    datasets.push({data: closed(f[1]), backgroundColor: col,
                   borderColor: cfad ? 'rgba(255,255,255,0.25)' : col, borderWidth: 0.7,
                   fill: 'shape', tension: p.tension, order: order--});
  });
  p.fills.forEach(f => {
    if (!f[2]) return;
    datasets.push({data: closed(f[1]), borderColor: '#000', borderWidth: 1.6, fill: false, tension: 0, order: 10,
      segment: {borderColor: c => (c.p0.parsed.y === c.p1.parsed.y && (c.p0.parsed.y === 0.5 || c.p0.parsed.y === 16)) ? 'rgba(0,0,0,0)' : undefined}});
  });
  (p.lines || []).forEach(l => {
    datasets.push({data: toXY(l), borderColor: '#000', borderWidth: 1.5, fill: false, tension: 0.25, order: 5});
  });

  const tickFont = {family: FONT, size: 12};
  const gridOpts = {drawOnChartArea: false, drawTicks: true, tickLength: 4.5, tickColor: '#000', tickWidth: 1};
  new Chart(cv, {
    type: 'line',
    data: {datasets},
    options: {
      responsive: false,
      animation: false,
      events: [],
      layout: {padding: {top: 24, right: 50}, autoPadding: false},
      elements: {point: {radius: 0, hitRadius: 0}},
      plugins: {
        legend: {display: false},
        tooltip: {enabled: false},
        title: {display: false},
        frame: {labels: p.labels, tag: p.tag, count: p.count, title: p.title}
      },
      scales: {
        x: {
          type: 'linear', min: -10, max: 68,
          afterBuildTicks: s => { s.ticks = xTicks.map(v => ({value: v})); },
          afterFit: s => { s.height = xH; },
          grid: gridOpts,
          border: {display: false},
          ticks: {font: tickFont, color: '#000', padding: 1, maxRotation: 0, callback: v => fmt(v)},
          title: {display: !!p.xTitle, text: 'Reflectivity (dBZ)', color: '#000', font: {family: FONT, size: 14}, padding: {top: 0, bottom: 6.5}}
        },
        y: {
          type: 'linear', min: 0, max: 16,
          afterBuildTicks: s => { s.ticks = yTicks.map(v => ({value: v})); },
          afterFit: s => { s.width = 50; },
          grid: gridOpts,
          border: {display: false},
          ticks: {font: tickFont, color: '#000', padding: 3.5, callback: v => fmt(v)},
          title: {display: !!p.yTitle, text: 'Height (km)', color: '#000', font: {family: FONT, size: 14}, padding: {top: 8, bottom: 0}}
        }
      }
    },
    plugins: [framePlugin]
  });
}

const panels = [
  {left: 52, top: 24, h: 298, title: 'PISTON Convective, Day (21-09Z)', tag: 'A', count: countA, fills: fillA, lines: linesA, labels: labelsA, yTitle: true, tension: 0.3},
  {left: 410, top: 24, h: 298, title: 'PISTON Convective, Night (09-21Z)', tag: 'B', count: countB, fills: fillB, lines: linesB, labels: labelsB, tension: 0.3},
  {left: 768, top: 24, h: 298, title: 'PISTON Convective, Day - Night', tag: 'C', fills: fillC, tension: 0},
  {left: 52, top: 383, h: 299, title: '29 SEP-3 OCT Convective, Day (21-09Z)', tag: 'D', count: countD, fills: fillD, lines: linesD, labels: labelsD, yTitle: true, xTitle: true, tension: 0.3},
  {left: 410, top: 383, h: 299, title: '29 SEP-3 OCT Convective, Night (09-21Z)', tag: 'E', count: countE, fills: fillE, lines: linesE, labels: labelsE, xTitle: true, tension: 0.3},
  {left: 768, top: 383, h: 299, title: '29 SEP-3 OCT Convective, Day - Night', tag: 'F', fills: fillF, xTitle: true, tension: 0}
];
panels.forEach(makePanel);

// ---------- colour bar ----------
(function () {
  const cv = document.createElement('canvas');
  cv.width = 181;
  cv.height = 723;
  cv.style.left = '1064px';
  cv.style.top = '0px';
  document.body.appendChild(cv);
  const datasets = bandColors.map((c, k) => ({
    data: [[freqLevels[k], freqLevels[k + 1]]], backgroundColor: c, borderWidth: 0,
    barPercentage: 1, categoryPercentage: 1, grouped: false, yAxisID: 'y'
  }));
  const tickFont = {family: FONT, size: 12};
  new Chart(cv, {
    type: 'bar',
    data: {labels: [''], datasets},
    options: {
      responsive: false, animation: false, events: [],
      layout: {padding: {top: 24, bottom: 41}, autoPadding: false},
      plugins: {legend: {display: false}, tooltip: {enabled: false}},
      scales: {
        x: {display: false},
        y: {
          position: 'left', min: 0.1, max: 2.1,
          afterBuildTicks: s => { s.ticks = freqTicks.map(v => ({value: v})); },
          afterFit: s => { s.width = 54; },
          grid: {drawOnChartArea: false, tickLength: 4.5, tickColor: '#000'},
          border: {display: false},
          ticks: {font: tickFont, color: '#000', padding: 3, callback: v => v.toFixed(1)}
        },
        y2: {
          position: 'right', min: -0.5, max: 0.5,
          afterBuildTicks: s => { s.ticks = diffTicks.map(v => ({value: v})); },
          afterFit: s => { s.width = 62; },
          grid: {drawOnChartArea: false, tickLength: 4.5, tickColor: '#000'},
          border: {display: false},
          ticks: {font: tickFont, color: '#000', padding: 3, callback: v => v.toFixed(1).replace('-', '\u2212')}
        }
      }
    },
    plugins: [{
      id: 'cbarFrame',
      afterDraw(chart) {
        const ctx = chart.ctx, ca = chart.chartArea;
        ctx.save();
        ctx.strokeStyle = '#000';
        ctx.lineWidth = 1.1;
        ctx.strokeRect(ca.left, ca.top, ca.right - ca.left, ca.bottom - ca.top);
        ctx.translate(168, (ca.top + ca.bottom) / 2);
        ctx.rotate(-Math.PI / 2);
        ctx.font = '16px ' + FONT;
        ctx.fillStyle = '#000';
        ctx.textAlign = 'center';
        ctx.textBaseline = 'middle';
        ctx.fillText('Normalized Frequency (%)', 0, 0);
        ctx.restore();
      }
    }]
  });
})();
</script>
</body>
</html>
